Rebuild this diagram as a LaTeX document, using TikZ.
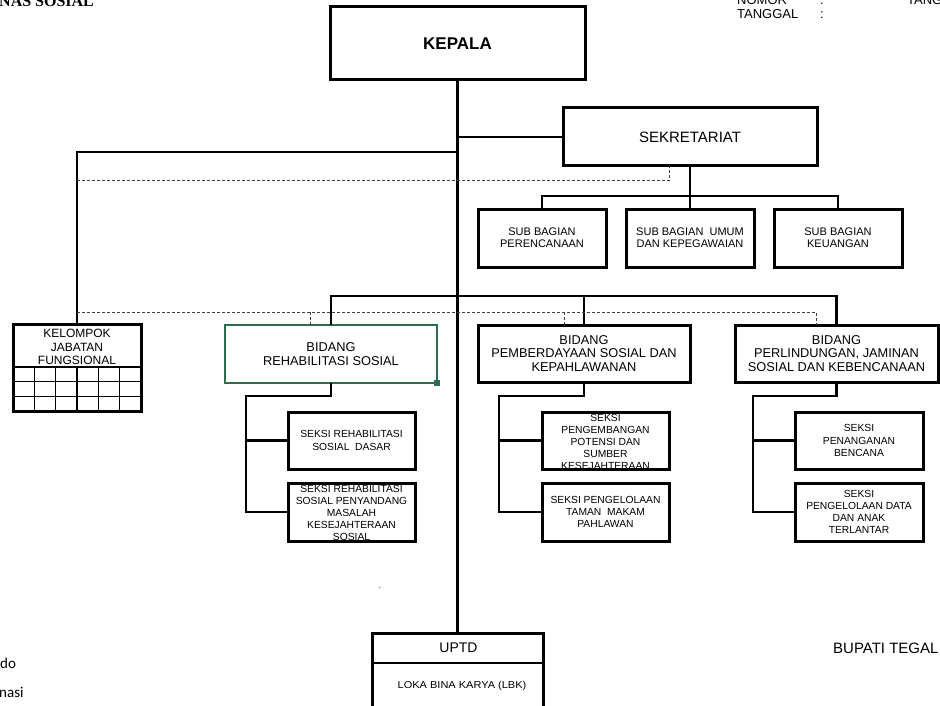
\documentclass[tikz,border=0pt]{standalone}
\usepackage{fontspec}
\setmainfont{Liberation Sans}
\newfontfamily\calibfont{Carlito}
\newfontfamily\serifbfont{Liberation Serif}
\newfontfamily\widefont[FakeStretch=1.1]{Liberation Sans}
\definecolor{rehabgreen}{RGB}{46,110,78}
\begin{document}
\begin{tikzpicture}[x=1pt,y=-1pt,
  box/.style={rectangle, draw=none, outer sep=0pt, inner sep=0pt, align=center},
  border/.style={draw=black, line width=3pt},
  conn/.style={draw=black, line width=2.9pt},
  dsh/.style={draw=black!75, line width=1pt, dash pattern=on 3pt off 2pt},
  subtxt/.style={font=\fontsize{11}{12.2}\selectfont},
  bidtxt/.style={font=\fontsize{12.8}{13.2}\selectfont},
  sktxt/.style={font=\fontsize{10.3}{12.2}\selectfont, align=center, inner sep=0pt},
  subbox/.style={box, minimum width=128pt, minimum height=58pt, subtxt},
  bidbox/.style={box, minimum height=57pt, bidtxt},
  skbox/.style={box, minimum width=127pt, minimum height=57pt, sktxt},
  hdr/.style={font=\fontsize{13}{14}\selectfont, anchor=base west, inner sep=0pt}
]
\fill[white] (0,0) rectangle (940,706);
\clip (0,0) rectangle (940,706);

% header texts
\node[anchor=base west, inner sep=0pt, font=\serifbfont\bfseries\fontsize{16}{18}\selectfont] (title) at (-1,7) {NAS SOSIAL};
\node[hdr] (nomor) at (737,5) {NOMOR};
\node[hdr] (nomorc) at (820,5) {:};
\node[hdr] (tgl) at (737,19) {TANGGAL};
\node[hdr] (tglc) at (820,19) {:};
\node[hdr] (tang) at (907,5) {TANG};

% main boxes
\node[box, minimum width=255pt, minimum height=73pt, font=\bfseries\fontsize{17}{20}\selectfont] (kep) at (457.5,43.5) {KEPALA};
\node[box, minimum width=254pt, minimum height=58pt, font=\fontsize{15}{18}\selectfont] (sek) at (690,137) {SEKRETARIAT};

\node[subbox] (pr) at (542,238) {SUB BAGIAN\\PERENCANAAN};
\node[subbox] (um) at (690,238) {SUB BAGIAN\ \ UMUM\\DAN KEPEGAWAIAN};
\node[subbox] (ke) at (838,238) {SUB BAGIAN\\KEUANGAN};

% kelompok jabatan fungsional
\node[box, minimum width=128pt, minimum height=87pt] (kel) at (77,367.5) {};
\node[font=\fontsize{12}{13.5}\selectfont, align=center, inner sep=0pt] (keltxt) at (77,347) {KELOMPOK\\JABATAN\\FUNGSIONAL};
\draw[line width=2.2pt] (13,367) -- (141,367);
\foreach \yy in {381.7,396.3} \draw[line width=1.2pt] (13,\yy) -- (141,\yy);
\foreach \xx in {34.3,55.7,77,98.3,119.7} \draw[line width=1.2pt] (\xx,367) -- (\xx,411);

% bidang boxes
\node[bidbox, minimum width=212pt, minimum height=58pt] (rehab) at (331,354) {BIDANG\\REHABILITASI SOSIAL};
\node[bidbox, minimum width=212pt] (pem) at (584,353.5) {BIDANG\\PEMBERDAYAAN SOSIAL DAN\\KEPAHLAWANAN};
\node[bidbox, minimum width=203pt] (perl) at (836.5,353.5) {BIDANG\\PERLINDUNGAN, JAMINAN\\SOSIAL DAN KEBENCANAAN};

% seksi boxes
\node[skbox] (rs1) at (351.5,440.5) {SEKSI REHABILITASI\\SOSIAL\ \ DASAR};
\node[skbox, minimum height=58pt] (rs2) at (351.5,512) {};
\begin{scope}
  \clip (rs2.north west) rectangle (rs2.south east);
  \node[sktxt] (rs2txt) at (351.5,513) {SEKSI REHABILITASI\\SOSIAL PENYANDANG\\MASALAH\\KESEJAHTERAAN\\SOSIAL};
\end{scope}
\node[skbox] (ps1) at (605.5,440.5) {};
\begin{scope}
  \clip (ps1.north west) rectangle (ps1.south east);
  \node[sktxt] (ps1txt) at (605.5,442) {SEKSI\\PENGEMBANGAN\\POTENSI DAN\\SUMBER\\KESEJAHTERAAN};
\end{scope}
\node[skbox, minimum height=58pt] (ps2) at (605.5,512) {SEKSI PENGELOLAAN\\TAMAN\ \ MAKAM\\PAHLAWAN};
\node[skbox, minimum width=128pt] (ls1) at (859,440.5) {SEKSI\\PENANGANAN\\BENCANA};
\node[skbox, minimum width=128pt, minimum height=58pt] (ls2) at (859,512) {SEKSI\\PENGELOLAAN DATA\\DAN ANAK\\TERLANTAR};

% UPTD
\node[box, minimum width=171pt, minimum height=80pt] (uptd) at (457.5,673) {};
\draw[line width=2.4pt] (372,663) -- (543,663);
\node[font=\fontsize{14}{16}\selectfont, inner sep=0pt] (uptdtxt) at (458.5,648) {UPTD};
\node[font=\widefont\fontsize{10}{11}\selectfont, inner sep=0pt] (loka) at (462,686) {LOKA BINA KARYA (LBK)};

% box borders
\foreach \n in {kep,sek,pr,um,ke,kel,pem,perl,rs1,rs2,ps1,ps2,ls1,ls2,uptd}
  \draw[border] (\n.north west) rectangle (\n.south east);
\draw[draw=rehabgreen, line width=2.6pt] (rehab.north west) rectangle (rehab.south east);
\fill[rehabgreen] ([xshift=-3pt,yshift=-3pt]rehab.south east) rectangle ([xshift=3pt,yshift=3pt]rehab.south east);

% connectors
\draw[conn] (kep.south) -- (uptd.north);
\draw[conn] (kep.south |- sek.west) -- (sek.west);
\coordinate (jk) at (457.5,152);
\draw[conn] (jk) -| (kel.north);
\coordinate (dk) at (77,181);
\draw[dsh] (dk) -| ([xshift=-21pt]sek.south);
\draw[conn] (sek.south) -- (um.north);
\draw[conn] (pr.north) -- ++(0,-13) -| (ke.north);

\draw[conn] (rehab.north) -- ++(0,-29) -| (perl.north);
\draw[conn] (pem.north) -- ++(0,-29);
\coordinate (dk2) at (77,312);
\draw[dsh] (dk2) -| ([xshift=-20pt]perl.north);
\draw[dsh] ([xshift=-21pt]rehab.north) -- ++(0,-13);
\draw[dsh] ([xshift=-20pt]pem.north) -- ++(0,-13);

\coordinate (rv) at (246,396);
\draw[conn] (rehab.south) |- (rv) |- (rs2.west);
\draw[conn] (rv |- rs1.west) -- (rs1.west);
\coordinate (pv) at (499,396);
\draw[conn] (pem.south) |- (pv) |- (ps2.west);
\draw[conn] (pv |- ps1.west) -- (ps1.west);
\coordinate (lv) at (753,396);
\draw[conn] (perl.south) |- (lv) |- (ls2.west);
\draw[conn] (lv |- ls1.west) -- (ls1.west);

% other texts
\node[font=\fontsize{10}{10}\selectfont, text=black!60, inner sep=0pt] (tick) at (380,590) {`};
\node[anchor=base west, inner sep=0pt, font=\fontsize{15}{18}\selectfont] (bupati) at (833,653) {BUPATI TEGAL};
\node[anchor=base west, inner sep=0pt, font=\calibfont\fontsize{15}{18}\selectfont] (do) at (0,668) {do};
\node[anchor=base west, inner sep=0pt, font=\calibfont\fontsize{15}{18}\selectfont] (nasi) at (-1,697) {nasi};
\end{tikzpicture}
\end{document}
